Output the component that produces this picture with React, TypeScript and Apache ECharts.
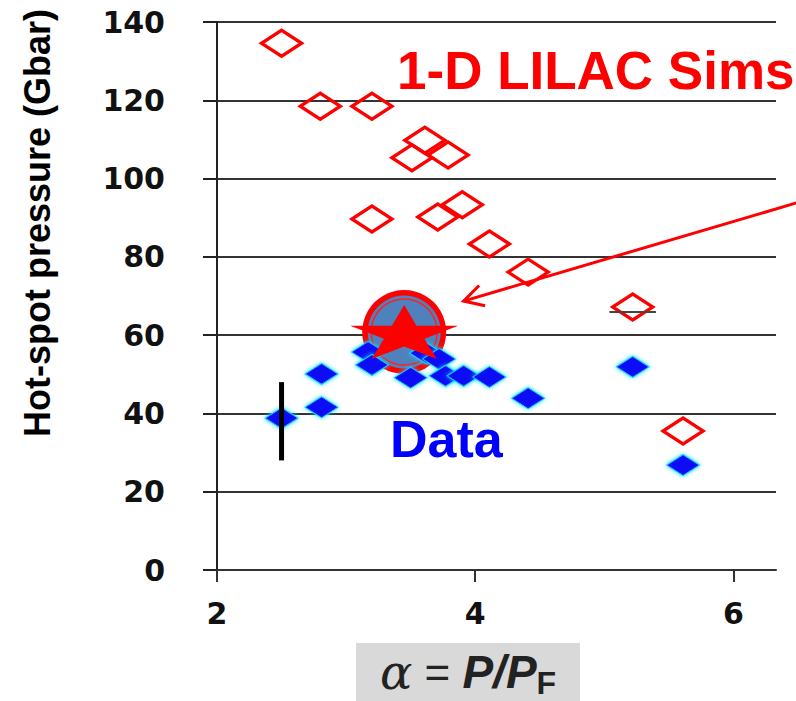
import React, { useEffect, useRef } from "react";
import * as echarts from "echarts";

// ---- data ----
const xTicks = [2, 4, 6];
const yTicks = [0, 20, 40, 60, 80, 100, 120, 140];
const simAlpha = [2.5, 2.8, 3.2, 3.61, 3.51, 3.79, 3.2, 3.71, 3.9, 4.11, 4.41, 5.22, 5.61];
const simPressure = [134.6, 118.5, 118.5, 109.8, 105.3, 106, 89.7, 90.2, 93.3, 83.3, 76.1, 67.2, 35.5];
const dataAlpha = [2.5, 2.81, 2.81, 3.17, 3.2, 3.5, 3.62, 3.72, 3.77, 3.91, 4.11, 4.41, 5.22, 5.61];
const dataPressure = [38.8, 50.1, 41.6, 55.7, 52.4, 49.1, 55.4, 53.9, 49.6, 49.6, 49.3, 43.9, 51.9, 26.8];
const highlightPoint = [3.45, 60.8];
const errorBarX = 2.5;
const errorBarRange = [28, 48];
const simDashX = [5.04, 5.4];
const simDashY = 65.9;
const arrowTail = [6.49, 93.8];
const arrowHead = [3.91, 68.7];

const STAR = "path://M50,0 L61,35 L98,35 L68,57 L79,91 L50,70 L21,91 L32,57 L2,35 L39,35 Z";

export default function App() {
  const ref = useRef<HTMLDivElement>(null);
  useEffect(() => {
    if (!ref.current) return;
    const chart = echarts.init(ref.current, null, { renderer: "svg" });
    const sims = simAlpha.map((a, i) => [a, simPressure[i]]);
    const data = dataAlpha.map((a, i) => [a, dataPressure[i]]);
    const labelFont = { fontFamily: "DejaVu Sans", fontWeight: "bold", fontSize: 30, color: "#111" };
    chart.setOption({
      animation: false,
      backgroundColor: "#ffffff",
      grid: { left: 217, right: 20, top: 22, bottom: 131, containLabel: false },
      xAxis: {
        type: "value",
        min: 2,
        max: 6.33,
        interval: 2,
        axisLine: { show: true, lineStyle: { color: "#333", width: 2 } },
        axisTick: { show: true, customValues: xTicks, length: 12, lineStyle: { color: "#333", width: 2 } },
        axisLabel: { customValues: xTicks, margin: 28, ...labelFont },
        splitLine: { show: false },
      },
      yAxis: {
        type: "value",
        min: 0,
        max: 140,
        interval: 20,
        axisLine: { show: true, lineStyle: { color: "#222", width: 2 } },
        axisTick: { show: true, length: 14, lineStyle: { color: "#222", width: 2 } },
        axisLabel: { margin: 52, ...labelFont, formatter: (v: number) => (yTicks.includes(v) ? String(v) : "") },
        splitLine: { show: true, lineStyle: { color: "#333", width: 2 } },
      },
      series: [
        {
          type: "scatter",
          data: [highlightPoint],
          symbol: "circle",
          symbolSize: 84,
          itemStyle: { color: "#ff0000", opacity: 1 },
          silent: true,
        },
        {
          type: "scatter",
          data: [highlightPoint],
          symbol: "circle",
          symbolSize: 73,
          itemStyle: { color: "#4f81bd", opacity: 1 },
          silent: true,
        },
        {
          type: "scatter",
          data: [highlightPoint],
          symbol: "circle",
          symbolSize: 66,
          itemStyle: { color: "transparent", borderColor: "#ff2020", borderWidth: 1.5, opacity: 1 },
          silent: true,
        },
        {
          name: "1-D LILAC Sims",
          type: "scatter",
          data: sims,
          symbol: "diamond",
          symbolSize: [40, 26],
          itemStyle: { color: "rgba(255,255,255,0)", borderColor: "#ff0000", borderWidth: 3.5, opacity: 1 },
        },
        {
          name: "Data",
          type: "scatter",
          data: data,
          symbol: "diamond",
          symbolSize: [33, 21],
          itemStyle: { color: "#0a0af5", borderColor: "#22c8ff", borderWidth: 1, shadowColor: "#00e0ff", shadowBlur: 4, opacity: 1 },
        },
        {
          type: "scatter",
          data: [highlightPoint],
          symbol: STAR,
          symbolSize: [108, 54],
          itemStyle: { color: "#ff0000", opacity: 1 },
          silent: true,
        },
        {
          type: "line",
          data: [[errorBarX, errorBarRange[0]], [errorBarX, errorBarRange[1]]],
          showSymbol: false,
          lineStyle: { color: "#000", width: 5 },
          silent: true,
        },
        {
          type: "line",
          data: [[simDashX[0], simDashY], [simDashX[1], simDashY]],
          showSymbol: false,
          lineStyle: { color: "#444", width: 2 },
          silent: true,
        },
      ],
    });

    const p1 = chart.convertToPixel({ gridIndex: 0 }, arrowTail) as number[];
    const p2 = chart.convertToPixel({ gridIndex: 0 }, arrowHead) as number[];
    const ang = Math.atan2(p1[1] - p2[1], p1[0] - p2[0]);
    const L = 22;
    const a1 = [p2[0] + L * Math.cos(ang + 0.5), p2[1] + L * Math.sin(ang + 0.5)];
    const a2 = [p2[0] + L * Math.cos(ang - 0.5), p2[1] + L * Math.sin(ang - 0.5)];

    chart.setOption({
      graphic: [
        {
          type: "line",
          shape: { x1: p1[0], y1: p1[1], x2: p2[0], y2: p2[1] },
          style: { stroke: "#ff0000", lineWidth: 3 },
          z: 100,
        },
        {
          type: "polyline",
          shape: { points: [a1, p2, a2] },
          style: { stroke: "#ff0000", lineWidth: 3, fill: null },
          z: 100,
        },
        {
          type: "text",
          x: 397,
          y: 70,
          style: {
            text: "1-D LILAC Sims",
            fill: "#ff0000",
            font: "bold 53px 'Liberation Sans', Arial, sans-serif",
            textAlign: "left",
            textVerticalAlign: "middle",
          },
          z: 100,
        },
        {
          type: "text",
          x: 390,
          y: 439,
          style: {
            text: "Data",
            fill: "#0000ff",
            font: "bold 52px 'Liberation Sans', Arial, sans-serif",
            textAlign: "left",
            textVerticalAlign: "middle",
          },
          z: 100,
        },
        {
          type: "text",
          x: 37,
          y: 223,
          rotation: Math.PI / 2,
          style: {
            text: "Hot-spot pressure (Gbar)",
            fill: "#000",
            font: "bold 36px 'Liberation Sans', Arial, sans-serif",
            textAlign: "center",
            textVerticalAlign: "middle",
          },
          z: 100,
        },
        {
          type: "rect",
          shape: { x: 356, y: 643, width: 224, height: 58 },
          style: { fill: "#d9d9d9" },
          z: 99,
        },
        {
          type: "text",
          x: 468,
          y: 672,
          style: {
            text: "{a|α}{e| = }{p|P/P}{s|F}",
            textAlign: "center",
            textVerticalAlign: "middle",
            rich: {
              a: { fontFamily: "DejaVu Serif", fontStyle: "italic", fontSize: 48, fill: "#222", lineHeight: 50 },
              e: { fontFamily: "Liberation Sans", fontSize: 44, fill: "#222", lineHeight: 50 },
              p: { fontFamily: "Liberation Sans", fontStyle: "italic", fontWeight: "bold", fontSize: 46, fill: "#222", lineHeight: 50 },
              s: { fontFamily: "Liberation Sans", fontWeight: "bold", fontSize: 32, fill: "#222", lineHeight: 50, padding: [22, 0, 0, 0] },
            },
          },
          z: 100,
        },
      ],
    });
    return () => chart.dispose();
  }, []);
  return <div ref={ref} style={{ position: "fixed", left: 0, top: 0, width: 796, height: 701 }} />;
}
